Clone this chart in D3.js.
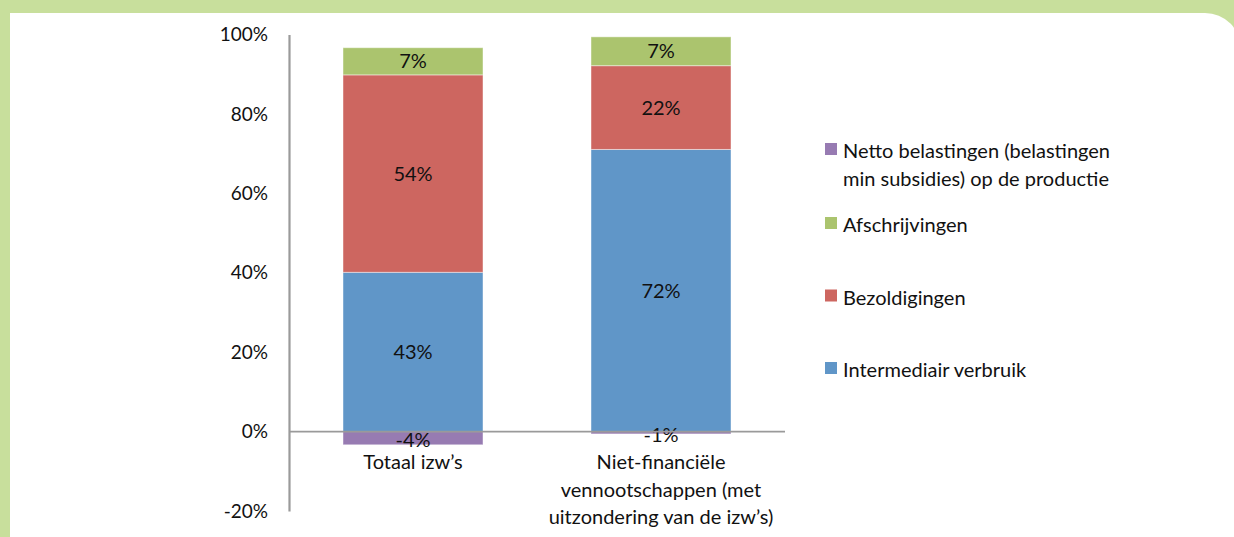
<!DOCTYPE html>
<html>
<head>
<meta charset="utf-8">
<script src="https://cdn.jsdelivr.net/npm/d3@7"></script>
<style>
  html, body { margin: 0; padding: 0; background: #c8df9c; }
  svg { display: block; font-family: Lato, "Open Sans", sans-serif; }
</style>
</head>
<body>
<svg id="chart" width="1234" height="537"></svg>
<script>
// raw values (labels show them, bars are 100% stacked on the sum of absolute values)
var categories = [["Totaal izw\u2019s"], ["Niet-financi\u00eble", "vennootschappen (met", "uitzondering van de izw\u2019s)"]];
var intermediair = [43.4, 72.4];
var bezoldigingen = [53.8, 21.5];
var afschrijvingen = [7.4, 7.4];
var netto = [-3.6, -0.6];
var seriesNames = ["Intermediair verbruik", "Bezoldigingen", "Afschrijvingen", "Netto belastingen (belastingen min subsidies) op de productie"];
var seriesColors = ["#6096c8", "#cd6660", "#abc46e", "#977bb2"];
var yTicks = [-0.2, 0, 0.2, 0.4, 0.6, 0.8, 1.0];

var svg = d3.select('#chart');

// white panel, only the top-right corner is rounded
svg.append('rect')
    .attr('x', 10).attr('y', 13)
    .attr('width', 1231).attr('height', 600)
    .attr('rx', 36)
    .attr('fill', '#fff');
svg.append('rect')
    .attr('x', 10).attr('y', 13)
    .attr('width', 100).attr('height', 600)
    .attr('fill', '#fff');

var x = d3.scaleBand().domain([0, 1]).range([289, 785]).paddingInner(0).paddingOuter(0);
var y = d3.scaleLinear().domain([-0.2, 1.0]).range([511, 34.5]);
var barW = 140;
var pct = function (v) { return Math.round(v * 100) + '%'; };

var allSeries = [intermediair, bezoldigingen, afschrijvingen, netto];

// build stacked segments
var segs = [];
[0, 1].forEach(function (ci) {
    var total = d3.sum(allSeries, function (s) { return Math.abs(s[ci]); });
    var pos = 0, neg = 0;
    allSeries.forEach(function (s, si) {
        var v = s[ci] / total;
        var y0, y1;
        if (v >= 0) { y0 = pos; y1 = pos + v; pos = y1; }
        else { y0 = neg + v; y1 = neg; neg = y0; }
        segs.push({ ci: ci, si: si, raw: s[ci], y0: y0, y1: y1 });
    });
});

var g = svg.append('g');

g.selectAll('rect.seg')
    .data(segs)
    .enter()
    .append('rect')
    .classed('seg', true)
    .attr('x', function (d) { return x(d.ci) + x.bandwidth() / 2 - barW / 2; })
    .attr('width', barW)
    .attr('y', function (d) { return y(d.y1); })
    .attr('height', function (d) { return y(d.y0) - y(d.y1); })
    .attr('fill', function (d) { return seriesColors[d.si]; })
    .attr('stroke', 'rgba(255,255,255,0.45)')
    .attr('stroke-width', 1);

// zero line
svg.append('line')
    .attr('x1', 289).attr('x2', 785)
    .attr('y1', y(0)).attr('y2', y(0))
    .attr('stroke', '#9a9a9a').attr('stroke-width', 1.6);

// y axis
var yAxis = d3.axisLeft(y)
    .tickValues(yTicks)
    .tickFormat(pct)
    .tickSize(0)
    .tickPadding(21);

var ya = svg.append('g')
    .attr('transform', 'translate(289,0)')
    .call(yAxis);
ya.select('.domain').attr('stroke', '#9a9a9a').attr('stroke-width', 2.2);
ya.selectAll('text')
    .attr('font-size', 19)
    .attr('fill', '#111')
    .attr('font-family', 'Lato, sans-serif');

// data labels
g.selectAll('text.lbl')
    .data(segs)
    .enter()
    .append('text')
    .classed('lbl', true)
    .attr('x', function (d) { return x(d.ci) + x.bandwidth() / 2; })
    .attr('y', function (d) {
        var c = (y(d.y0) + y(d.y1)) / 2;
        if (d.raw < 0) c += 2;
        return c;
    })
    .attr('dy', '0.35em')
    .attr('text-anchor', 'middle')
    .attr('font-size', 20)
    .attr('fill', '#111')
    .text(function (d) { return Math.round(d.raw) + '%'; });

// category labels
var cat = svg.selectAll('text.cat')
    .data(categories)
    .enter()
    .append('text')
    .classed('cat', true)
    .attr('x', function (d, i) { return x(i) + x.bandwidth() / 2; })
    .attr('y', 462)
    .attr('text-anchor', 'middle')
    .attr('font-size', 20)
    .attr('fill', '#111');
cat.selectAll('tspan')
    .data(function (d) { return d; })
    .enter()
    .append('tspan')
    .attr('x', function () { return this.parentNode.getAttribute('x'); })
    .attr('dy', function (d, i) { return i == 0 ? '0.35em' : 27.5; })
    .text(function (d) { return d; });

// legend (reverse order like Excel)
var legendItems = [
    { si: 3, lines: ["Netto belastingen (belastingen", "min subsidies) op de productie"], cy: 149 },
    { si: 2, lines: ["Afschrijvingen"], cy: 223 },
    { si: 1, lines: ["Bezoldigingen"], cy: 295.5 },
    { si: 0, lines: ["Intermediair verbruik"], cy: 368 }
];
var leg = svg.selectAll('g.leg')
    .data(legendItems)
    .enter()
    .append('g')
    .classed('leg', true);
leg.append('rect')
    .attr('x', 825).attr('width', 12).attr('height', 12)
    .attr('y', function (d) { return d.cy - 6; })
    .attr('fill', function (d) { return seriesColors[d.si]; });
var lt = leg.append('text')
    .attr('x', 843)
    .attr('y', function (d) { return d.cy + 2; })
    .attr('font-size', 20)
    .attr('fill', '#111');
lt.selectAll('tspan')
    .data(function (d) { return d.lines; })
    .enter()
    .append('tspan')
    .attr('x', 843)
    .attr('dy', function (d, i) { return i == 0 ? '0.35em' : 28; })
    .text(function (d) { return d; });
</script>
</body>
</html>
